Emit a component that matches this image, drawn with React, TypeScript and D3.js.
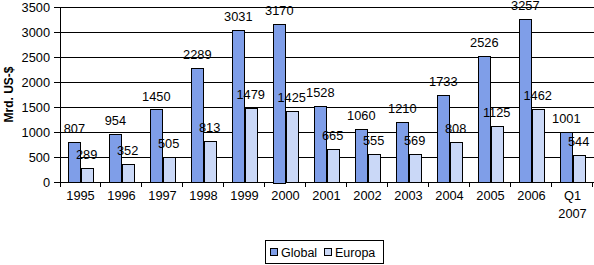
import React from "react";
import * as d3 from "d3";

const categories = ["1995","1996","1997","1998","1999","2000","2001","2002","2003","2004","2005","2006","Q1 2007"];
const globalValues = [807,954,1450,2289,3031,3170,1528,1060,1210,1733,2526,3257,1001];
const europaValues = [289,352,505,813,1479,1425,665,555,569,808,1125,1462,544];
const yTicks = [0,500,1000,1500,2000,2500,3000,3500];
const seriesNames = ["Global","Europa"];
const seriesColors = ["#7f9ee8","#cad8f7"];

export default function App() {
  const W = 594, H = 265;
  const left = 60, right = 593, top = 7, bottom = 182;
  const x = d3.scaleBand<string>().domain(categories).range([left, right]).paddingInner(0).paddingOuter(0);
  const y = d3.scaleLinear().domain([0, 3500]).range([bottom, top]);
  const bw = x.bandwidth();
  const sub = d3.scaleBand<string>().domain(seriesNames).range([bw * 0.2, bw * 0.8]).padding(0);
  const font = "Arial, 'Liberation Sans', sans-serif";
  const fs = 12.8;
  const data = categories.map((c, i) => ({ c, vals: [globalValues[i], europaValues[i]] }));
  return (
    <div style={{ position: "absolute", left: 0, top: 0 }}>
      <svg width={W} height={H} style={{ display: "block", background: "#fff" }} fontFamily={font}>
        {yTicks.map(t => (
          <g key={t}>
            <line x1={left - 6} x2={right + 1} y1={Math.round(y(t)) + 0.5} y2={Math.round(y(t)) + 0.5} stroke="#000" strokeWidth={1} />
            <text x={left - 10} y={y(t) + 4.5} fontSize={fs} textAnchor="end" fill="#000">{t}</text>
          </g>
        ))}
        <line x1={left + 0.5} x2={left + 0.5} y1={top} y2={bottom + 5} stroke="#000" />
        {categories.map((c, i) => (
          <line key={"t" + c} x1={Math.round(x(c)! + bw) - 0.5} x2={Math.round(x(c)! + bw) - 0.5} y1={bottom} y2={bottom + 5} stroke="#000" />
        ))}
        {data.map(d => d.vals.map((v, s) => {
          const bx = x(d.c)! + sub(seriesNames[s])!;
          return (
            <rect key={d.c + s} x={Math.round(bx) + 0.5} y={Math.round(y(v)) + 0.5} width={Math.round(sub.bandwidth())} height={Math.round(bottom - y(v))}
              fill={seriesColors[s]} stroke="#000" strokeWidth={1} />
          );
        }))}
        {data.map(d => d.vals.map((v, s) => {
          const bx = x(d.c)! + sub(seriesNames[s])! + sub.bandwidth() / 2;
          return (
            <text key={"l" + d.c + s} x={bx} y={y(v) - 9} fontSize={fs} textAnchor="middle" fill="#000">{v}</text>
          );
        }))}
        {categories.map(c => {
          const parts = c.split(" ");
          return (
            <text key={"x" + c} x={x(c)! + bw / 2} y={200} fontSize={fs} textAnchor="middle" fill="#000">
              {parts.map((p, j) => <tspan key={j} x={x(c)! + bw / 2} dy={j === 0 ? 0 : 18}>{p}</tspan>)}
            </text>
          );
        })}
        <text transform={`translate(13,${(top + bottom) / 2}) rotate(-90)`} fontSize={12} fontWeight="bold" textAnchor="middle">Mrd. US-$</text>
        <rect x={265.5} y={240.5} width={118} height={23} fill="#fff" stroke="#000" />
        {seriesNames.map((n, s) => {
          const lx = s === 0 ? 270 : 324;
          return (
            <g key={n}>
              <rect x={lx + 0.5} y={248.5} width={7} height={7} fill={seriesColors[s]} stroke="#000" />
              <text x={lx + 11} y={256.5} fontSize={12.5} fill="#000">{n}</text>
            </g>
          );
        })}
      </svg>
    </div>
  );
}
